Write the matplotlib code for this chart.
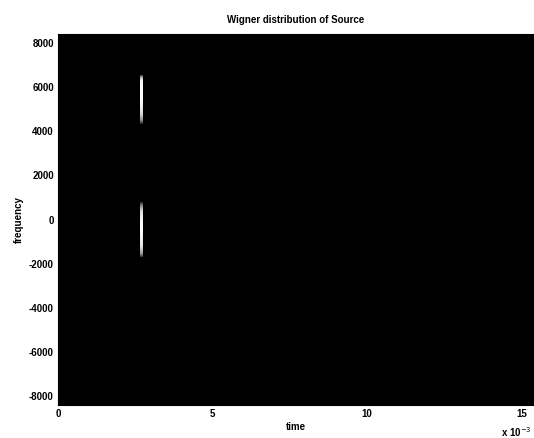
import numpy as np
import matplotlib
matplotlib.use("Agg")
import matplotlib.pyplot as plt

plt.rcParams['font.family'] = ['Liberation Sans', 'DejaVu Sans']

# Axis ranges
t_range = [0, 15.4]
f_range = [-8400, 8400]
xticks = [0, 5, 10, 15]
yticks = [-8000, -6000, -4000, -2000, 0, 2000, 4000, 6000, 8000]

# Streak 1 (upper): time center, frequency samples and intensities
s1_time = 2.68
s1_freq = [4350, 4500, 4800, 5200, 5600, 6000, 6300, 6450, 6550]
s1_int = [0.15, 0.55, 0.85, 0.95, 1.0, 1.0, 0.95, 0.7, 0.2]
# Streak 2 (lower)
s2_time = 2.68
s2_freq = [-1700, -1550, -1200, -800, -300, 100, 400, 650, 780]
s2_int = [0.15, 0.6, 0.9, 0.95, 1.0, 0.95, 0.85, 0.5, 0.15]
streak_width = 0.1

nt, nf = 600, 800
t = np.linspace(t_range[0], t_range[1], nt)
f = np.linspace(f_range[0], f_range[1], nf)
img = np.zeros((nf, nt))
for tc, fs, vals in [(s1_time, s1_freq, s1_int), (s2_time, s2_freq, s2_int)]:
    col = np.abs(t - tc) <= streak_width / 2
    prof = np.interp(f, fs, vals, left=0, right=0)
    img[:, col] = np.maximum(img[:, col], prof[:, None])

fig = plt.figure(figsize=(5.34, 4.38), dpi=100)
ax = fig.add_axes([58/534, 1 - 405/438, 1 - 58/534, (405 - 34)/438])
ax.imshow(img, origin='lower', aspect='auto', cmap='gray', vmin=0, vmax=1,
          extent=[t_range[0], t_range[1], f_range[0], f_range[1]],
          interpolation='nearest')
ax.set_xlim(t_range)
ax.set_ylim(f_range)
ax.set_xticks(xticks)
ax.set_xticklabels([str(v) for v in xticks], fontsize=7, fontweight='bold')
ax.set_yticks(yticks)
ax.set_yticklabels([str(v) for v in yticks], fontsize=7, fontweight='bold')
ax.tick_params(direction='in', length=3, pad=3)
ax.set_title('Wigner distribution of Source', fontsize=7, fontweight='bold', pad=8)
ax.set_xlabel('time', fontsize=7, fontweight='bold', labelpad=2)
ax.set_ylabel('frequency', fontsize=7, fontweight='bold', labelpad=4)
fig.text(532/534, 1 - 432/438, 'x 10$^{-3}$', fontsize=7, fontweight='bold',
         va='center', ha='right')
fig.savefig('out.png', dpi=100)
